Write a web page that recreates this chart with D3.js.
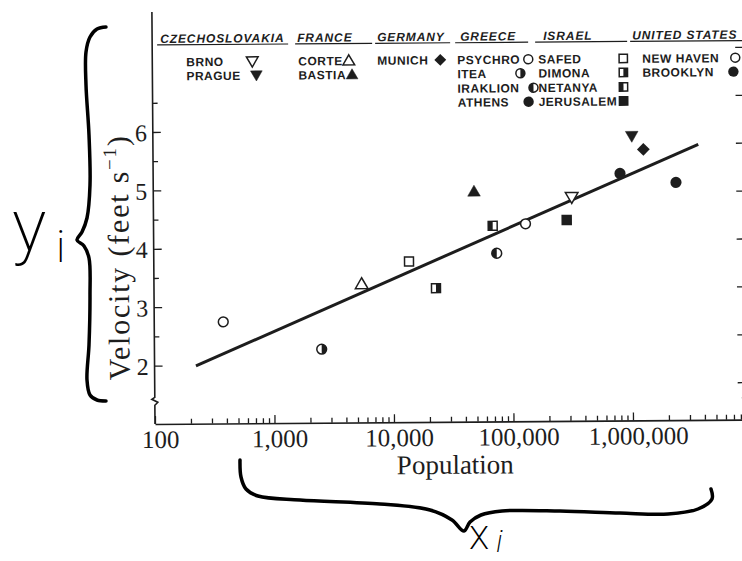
<!DOCTYPE html>
<html>
<head>
<meta charset="utf-8">
<script src="https://cdn.jsdelivr.net/npm/d3@7"></script>
<style>
  body { margin: 0; background: #fff; }
  svg { display: block; }
</style>
</head>
<body>
<script>
// values (walking speed vs. city size)
var cities = ["BRNO", "PRAGUE", "CORTE", "BASTIA", "MUNICH", "PSYCHRO", "ITEA", "IRAKLION", "ATHENS",
              "SAFED", "DIMONA", "NETANYA", "JERUSALEM", "NEW HAVEN", "BROOKLYN"];
var country = [0, 0, 1, 1, 2, 3, 3, 3, 3, 4, 4, 4, 4, 5, 5];
var population = [317000, 1017000, 5470, 48300, 1270000, 378, 2510, 74200, 807000,
                  13670, 22900, 68900, 287000, 129700, 2370000];
var velocity = [4.83, 5.87, 3.37, 4.94, 5.64, 2.74, 2.26, 3.88, 5.23,
                3.75, 3.29, 4.35, 4.44, 4.38, 5.07];
var shape = ["down", "down", "up", "up", "diamond", "circle", "circle", "circle", "circle",
             "square", "square", "square", "square", "circle", "circle"];
var fill = ["open", "full", "open", "full", "full", "open", "right", "left", "full",
            "open", "right", "left", "full", "open", "full"];
var countries = ["CZECHOSLOVAKIA", "FRANCE", "GERMANY", "GREECE", "ISRAEL", "UNITED STATES"];
var fitPopulation = [222, 3660000];
var fitVelocity = [1.99, 5.72];
var popTicks = [100, 1000, 10000, 100000, 1000000];
var velTicks = [2, 3, 4, 5, 6];
var msTicks = [0.5, 0.75, 1, 1.25, 1.5, 1.75, 2, 2.25];

var ink = "#1d1d1d";
var svg = d3.select("body").append("svg").attr("width", 742).attr("height", 561);

var x = d3.scaleLog().domain([100, 1e7]).range([155, 155 + 5 * 119.5]);
var y = d3.scaleLinear().domain([1, 8]).range([424, 424 - 7 * 58.4]);
var yMs = d3.scaleLinear().domain([0.3048, 8 * 0.3048]).range(y.range());

// the scanned figure sits slightly askew
var g = svg.append("g").attr("transform", "rotate(-0.43,155,424)");

// bottom axis
var minor = [];
popTicks.concat([1e7]).forEach(function (d) {
  for (var k = 2; k < 10; k++) minor.push(d * k);
});
g.append("g").attr("transform", "translate(0,424)")
  .call(d3.axisBottom(x).tickValues(minor).tickSize(-5).tickSizeOuter(0).tickFormat(""))
  .call(function (a) { a.select(".domain").attr("stroke", ink).attr("stroke-width", 1.6); a.selectAll("line").attr("stroke", ink).attr("stroke-width", 1.3); });
g.append("g").attr("transform", "translate(0,424)")
  .call(d3.axisBottom(x).tickValues(popTicks).tickSize(-8).tickPadding(24).tickFormat(d3.format(",")))
  .call(function (a) {
    a.select(".domain").remove();
    a.selectAll("line").attr("stroke", ink).attr("stroke-width", 1.3);
    a.selectAll("text").attr("fill", ink).attr("font-family", "Liberation Serif").attr("font-size", 25).attr("dx", 5).attr("dy", 0);
  });

// left axis with a break near the bottom
g.append("path").attr("fill", "none").attr("stroke", ink).attr("stroke-width", 1.6)
  .attr("d", "M155," + y(1) + "V" + (y(1.32)) + "l3,-3l-6,-3l3,-2V12");
g.append("g").attr("transform", "translate(155,0)")
  .call(d3.axisLeft(y).tickValues([2.5, 3.5, 4.5, 5.5, 6.5]).tickSize(-5).tickFormat(""))
  .call(function (a) { a.select(".domain").remove(); a.selectAll("line").attr("stroke", ink).attr("stroke-width", 1.3); });
g.append("g").attr("transform", "translate(155,0)")
  .call(d3.axisLeft(y).tickValues(velTicks).tickSize(-8).tickPadding(6).tickFormat(d3.format("d")))
  .call(function (a) {
    a.select(".domain").remove();
    a.selectAll("line").attr("stroke", ink).attr("stroke-width", 1.3);
    a.selectAll("text").attr("fill", ink).attr("font-family", "Liberation Serif").attr("font-size", 24).attr("dy", "0.36em");
  });

// right axis (metres per second), mostly off the page
g.append("g").attr("transform", "translate(747,0)")
  .call(d3.axisRight(yMs).tickValues(msTicks).tickSize(-9).tickFormat(""))
  .call(function (a) { a.select(".domain").remove(); a.selectAll("line").attr("stroke", ink).attr("stroke-width", 1.3); });
g.append("path").attr("fill", "none").attr("stroke", ink).attr("stroke-width", 1.6)
  .attr("d", "M747," + y(1) + "V" + (y(1.32)) + "l-4,-3l4,-3V12");

// axis titles
g.append("text").attr("x", 455).attr("y", 476).attr("text-anchor", "middle")
  .attr("font-family", "Liberation Serif").attr("font-size", 27).attr("fill", ink).text("Population");
var yl = g.append("text").attr("transform", "translate(130,257) rotate(-90)").attr("text-anchor", "middle")
  .attr("font-family", "Liberation Serif").attr("font-size", 30).attr("letter-spacing", 1.8).attr("fill", ink);
yl.append("tspan").text("Velocity (feet s");
yl.append("tspan").attr("font-size", 19).attr("dy", -12).text("\u22121");
yl.append("tspan").attr("dy", 12).text(")");

// regression line
g.append("path")
  .datum(d3.zip(fitPopulation, fitVelocity))
  .attr("fill", "none").attr("stroke", ink).attr("stroke-width", 3)
  .attr("d", d3.line().x(function (d) { return x(d[0]); }).y(function (d) { return y(d[1]); }));

function marker(sel, shp, fl, r) {
  var black = fl === "full";
  if (shp === "circle") {
    sel.append("circle").attr("r", black ? r : r - 0.7)
      .attr("fill", black ? ink : "#fff").attr("stroke", ink).attr("stroke-width", black ? 0 : 1.5);
    if (fl === "left" || fl === "right") {
      var a0 = fl === "right" ? 0 : Math.PI;
      sel.append("path").attr("fill", ink)
        .attr("d", d3.arc()({ innerRadius: 0, outerRadius: r - 0.7, startAngle: a0, endAngle: a0 + Math.PI }));
    }
  } else if (shp === "square") {
    var s = r * 1.6;
    sel.append("rect").attr("x", -s / 2).attr("y", -s / 2).attr("width", s).attr("height", s)
      .attr("fill", black ? ink : "#fff").attr("stroke", ink).attr("stroke-width", 1.5);
    if (fl === "left" || fl === "right") {
      sel.append("rect").attr("x", fl === "left" ? -s / 2 : 0).attr("y", -s / 2).attr("width", s / 2).attr("height", s)
        .attr("fill", ink);
    }
  } else if (shp === "diamond") {
    sel.append("path").attr("fill", ink)
      .attr("d", d3.symbol(d3.symbolSquare, r * r * 2.6)()).attr("transform", "rotate(45)");
  } else {
    var tri = d3.symbol(d3.symbolTriangle, r * r * 2.2)();
    sel.append("path").attr("d", tri)
      .attr("transform", shp === "down" ? "translate(0,-1) rotate(180)" : "translate(0,1)")
      .attr("fill", black ? ink : "#fff").attr("stroke", ink).attr("stroke-width", black ? 0.5 : 1.5)
      .attr("stroke-linejoin", "miter");
  }
}

// data points
g.selectAll(".pt").data(cities).enter().append("g").attr("class", "pt")
  .attr("transform", function (d, i) { return "translate(" + x(population[i]) + "," + y(velocity[i]) + ")"; })
  .each(function (d, i) { marker(d3.select(this), shape[i], fill[i], 5.6); });

// legend block
var headX = [163, 300, 380, 463, 546, 635];
var lineX = [[160, 291], [298, 375], [378, 453], [458, 531], [538, 630], [633, 750]];
var labelX = [189, 301, 380, 460, 541, 645];
var symX = [255, 259, 0, 0, 443, 531, 523, 536, 531, 626, 626, 626, 626, 738, 736];
var rowY = [62, 76, 90.5, 104.5];

var lg = g.append("g").attr("font-family", "Liberation Sans").attr("fill", ink);
countries.forEach(function (c, j) {
  lg.append("text").attr("x", headX[j]).attr("y", 43).attr("font-size", 12).attr("font-weight", "bold")
    .attr("font-style", "italic").attr("letter-spacing", 0.9).text(c);
  lg.append("line").attr("x1", lineX[j][0]).attr("x2", lineX[j][1]).attr("y1", 45).attr("y2", 45)
    .attr("stroke", ink).attr("stroke-width", 1.2);
});
var rowOf = country.map(function (c, i) { return country.slice(0, i).filter(function (k) { return k === c; }).length; });
cities.forEach(function (c, i) {
  var t = lg.append("text").attr("x", labelX[country[i]]).attr("y", rowY[rowOf[i]] + 4.5)
    .attr("font-size", 12).attr("font-weight", "bold").attr("letter-spacing", 0.5).text(c);
  var sx = Math.max(symX[i], labelX[country[i]] + t.node().getComputedTextLength() + 6);
  var m = lg.append("g").attr("transform", "translate(" + sx + "," + rowY[rowOf[i]] + ")");
  marker(m, shape[i], fill[i], 5.2);
});

// hand-drawn braces and labels added on top of the scan
var pen = d3.line().curve(d3.curveCatmullRom);
var braceY = [[106, 27], [97, 29], [90, 37], [86, 52], [86, 85], [89, 135], [90, 185], [87, 218], [82, 232], [77, 240],
              [84, 246], [89, 258], [90, 295], [89, 345], [87, 380], [90, 395], [97, 400], [106, 401]];
var braceX = [[240, 460], [241, 477], [246, 489], [258, 496], [300, 500], [380, 504], [430, 510], [452, 520], [464, 531],
              [470, 522], [481, 515], [502, 511], [560, 511], [620, 513], [668, 514], [698, 509], [712, 499], [711, 489]];
svg.append("path").attr("d", pen(braceY)).attr("fill", "none").attr("stroke", "#000").attr("stroke-width", 3.5)
  .attr("stroke-linecap", "round").attr("stroke-linejoin", "round");
svg.append("path").attr("d", pen(braceX)).attr("fill", "none").attr("stroke", "#000").attr("stroke-width", 3.5)
  .attr("stroke-linecap", "round").attr("stroke-linejoin", "round");
var hand = svg.append("g").attr("font-family", "Roboto").attr("font-weight", 200).attr("fill", "#000");
hand.append("text").attr("x", 12).attr("y", 250).attr("font-size", 72).text("y");
hand.append("text").attr("x", 56).attr("y", 262).attr("font-size", 44).text("i");
hand.append("text").attr("x", 469).attr("y", 549).attr("font-size", 42).text("x");
hand.append("text").attr("x", 496).attr("y", 552).attr("font-size", 32).attr("font-style", "italic").text("i");
</script>
</body>
</html>
